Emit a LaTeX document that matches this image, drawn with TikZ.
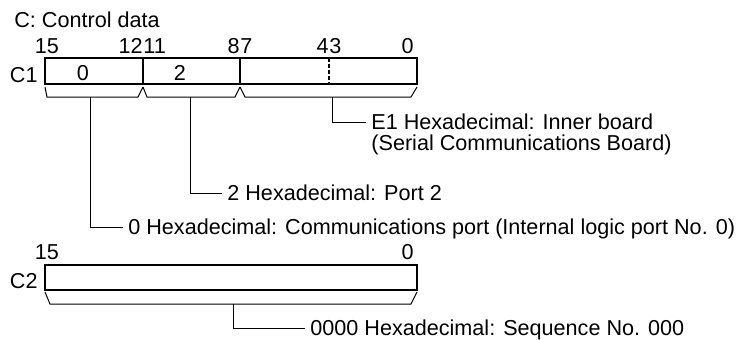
\documentclass[tikz,border=0pt]{standalone}
\usepackage{fontspec}
\setmainfont{Liberation Sans}
\usetikzlibrary{positioning,calc}

\begin{document}
\begin{tikzpicture}[x=0.5pt, y=-0.5pt, font=\fontsize{10.8}{12.5}\selectfont]
\tikzset{
  wordbox/.style={line width=1.1pt},
  bracket/.style={line width=0.5pt},
  leader/.style={line width=0.5pt},
  bitnum/.style={inner sep=0pt, anchor=base},
  note/.style={anchor=west, inner xsep=2.5pt, inner ysep=0pt, text height=7.7pt, text depth=0pt},
}
\useasboundingbox (0,0) rectangle (744,339);

% title
\node[inner sep=0pt, anchor=base west] (title) at (14,27) {C: Control data};

% word C1
\coordinate (c1nw) at (45,58);
\coordinate (c1se) at (417,84);
\draw[wordbox] (c1nw) rectangle (c1se);
\draw[wordbox] (143,58) -- (143,84);
\draw[wordbox] (240,58) -- (240,84);
\draw[line width=0.8pt, dash pattern=on 2pt off 1pt] (329,58) -- (329,84);
\node[bitnum, anchor=base east] (wc1) at (38,82) {C1};
\node[bitnum] (v0) at (83,80) {0};
\node[bitnum] (v2) at (180,80) {2};

% bit numbers of C1
\node[bitnum] (n15) at (47,53) {15};
\node[bitnum, anchor=base east] (n12) at (143,53) {12};
\node[bitnum, anchor=base west] (n11) at (143,53) {11};
\node[bitnum, anchor=base east] (n8) at (240,53) {8};
\node[bitnum, anchor=base west] (n7) at (240,53) {7};
\node[bitnum, anchor=base east] (n4) at (329,53) {4};
\node[bitnum, anchor=base west] (n3) at (329,53) {3};
\node[bitnum, anchor=base east] (n0) at (414,53) {0};

% brackets under C1
\draw[bracket] (45,87) -- (47,97) -- (138,97) -- (143,87);
\draw[bracket] (143,87) -- (147,97) -- (235,97) -- (240,87);
\draw[bracket] (240,87) -- (245,97) -- (411,97) -- (417,87);
\coordinate (br1) at (90,97);
\coordinate (br2) at (190,97);
\coordinate (br3) at (332,97);

% meanings of the fields
\node[note] (inner) at (366,122) {E1 Hexadecimal: Inner board};
\node[note, below=2.3pt of inner.south west, anchor=north west] (serial) {(Serial Communications Board)};
\node[note] (port2) at (222,193) {2 Hexadecimal: Port 2};
\node[note] (port0) at (123,227) {0 Hexadecimal: Communications port (Internal logic port No. 0)};
\draw[leader] (br3) |- (inner.west);
\draw[leader] (br2) |- (port2.west);
\draw[leader] (br1) |- (port0.west);

% word C2
\coordinate (c2nw) at (45,265);
\coordinate (c2se) at (417,290);
\draw[wordbox] (c2nw) rectangle (c2se);
\node[bitnum, anchor=base east] (wc2) at (38,288) {C2};
\node[bitnum] (m15) at (47,259) {15};
\node[bitnum, anchor=base east] (m0) at (414,259) {0};
\draw[bracket] (45,292) -- (50,304) -- (411,304) -- (417,292);
\coordinate (br4) at (233,304);
\node[note] (seq) at (305,328) {0000 Hexadecimal: Sequence No. 000};
\draw[leader] (br4) |- (seq.west);
\end{tikzpicture}
\end{document}
